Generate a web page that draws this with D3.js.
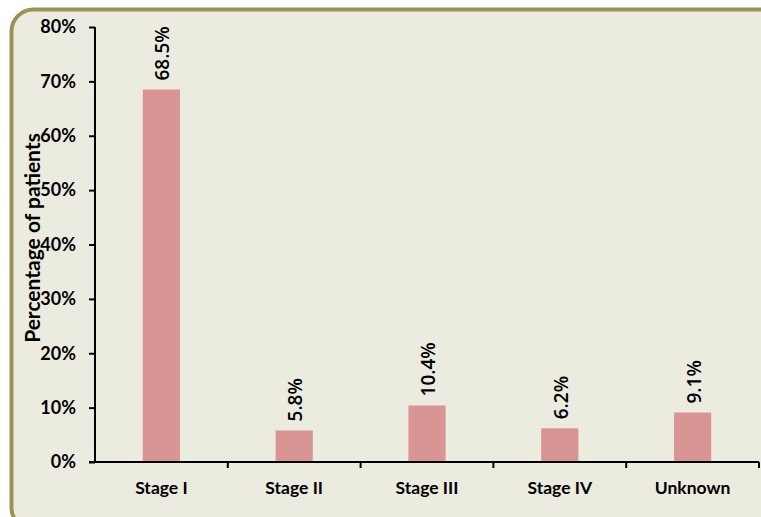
<!DOCTYPE html>
<html>
<head>
<meta charset="utf-8">
<script src="https://cdn.jsdelivr.net/npm/d3@7"></script>
<style>
  html, body { margin: 0; padding: 0; background: #fff; }
  svg { display: block; }
  text { font-family: Lato, "Open Sans", sans-serif; font-weight: bold; fill: #000; }
</style>
</head>
<body>
<svg id="chart" width="761" height="517"></svg>
<script>
// Distribution of patients by disease stage
const categories = ["Stage I", "Stage II", "Stage III", "Stage IV", "Unknown"];
const percentages = [68.5, 5.8, 10.4, 6.2, 9.1];
const yTicks = [0, 10, 20, 30, 40, 50, 60, 70, 80];

const svg = d3.select("#chart");

// Rounded panel behind the plot
svg.append("rect")
  .attr("x", 11.5).attr("y", 9.5)
  .attr("width", 770).attr("height", 520)
  .attr("rx", 22).attr("ry", 22)
  .attr("fill", "#ecebe0")
  .attr("stroke", "#9b9258")
  .attr("stroke-width", 4);

const plot = { left: 95, right: 759, top: 27, bottom: 462 };

const x = d3.scaleBand()
  .domain(categories)
  .range([plot.left, plot.right])
  .paddingInner(0.72)
  .paddingOuter(0.36);

const y = d3.scaleLinear()
  .domain([0, 80])
  .range([plot.bottom, plot.top]);

// Bars
svg.append("g").selectAll("rect")
  .data(categories)
  .join("rect")
  .attr("x", d => x(d))
  .attr("width", x.bandwidth())
  .attr("y", (d, i) => y(percentages[i]))
  .attr("height", (d, i) => y(0) - y(percentages[i]))
  .attr("fill", "#d99594");

// Value labels, rotated
svg.append("g").selectAll("text")
  .data(categories)
  .join("text")
  .attr("transform", (d, i) =>
    `translate(${x(d) + x.bandwidth() / 2 + 8},${y(percentages[i]) - 9}) rotate(-90)`)
  .attr("text-anchor", "start")
  .style("font-size", "19px")
  .style("font-weight", "600")
  .style("font-family", "'Open Sans', sans-serif")
  .text((d, i) => percentages[i].toFixed(1) + "%");

// Y axis
const yAxis = svg.append("g")
  .attr("transform", `translate(${plot.left},0)`)
  .call(d3.axisLeft(y).tickValues(yTicks).tickFormat(d => d + "%").tickSize(6).tickPadding(13));
yAxis.select(".domain").attr("stroke", "#000").attr("stroke-width", 2).attr("d", `M0,${plot.top}V${plot.bottom}`);
yAxis.selectAll(".tick line").attr("stroke", "#000").attr("stroke-width", 2);
yAxis.selectAll(".tick text").style("font-size", "18px");

// X axis with ticks at category boundaries
const xAxis = svg.append("g")
  .attr("transform", `translate(0,${plot.bottom})`);
xAxis.append("line")
  .attr("x1", plot.left - 6).attr("x2", plot.right)
  .attr("stroke", "#000").attr("stroke-width", 2);
const step = (plot.right - plot.left) / categories.length;
xAxis.selectAll("line.tick")
  .data(d3.range(1, categories.length + 1))
  .join("line")
  .attr("class", "tick")
  .attr("x1", i => plot.left + i * step)
  .attr("x2", i => plot.left + i * step)
  .attr("y1", 0).attr("y2", 6)
  .attr("stroke", "#000").attr("stroke-width", 2);
xAxis.selectAll("text")
  .data(categories)
  .join("text")
  .attr("x", d => x(d) + x.bandwidth() / 2)
  .attr("y", 32)
  .attr("text-anchor", "middle")
  .style("font-size", "17.5px")
  .text(d => d);

// Y axis title
svg.append("text")
  .attr("transform", "translate(40,238) rotate(-90)")
  .attr("text-anchor", "middle")
  .style("font-size", "21px")
  .text("Percentage of patients");
</script>
</body>
</html>
